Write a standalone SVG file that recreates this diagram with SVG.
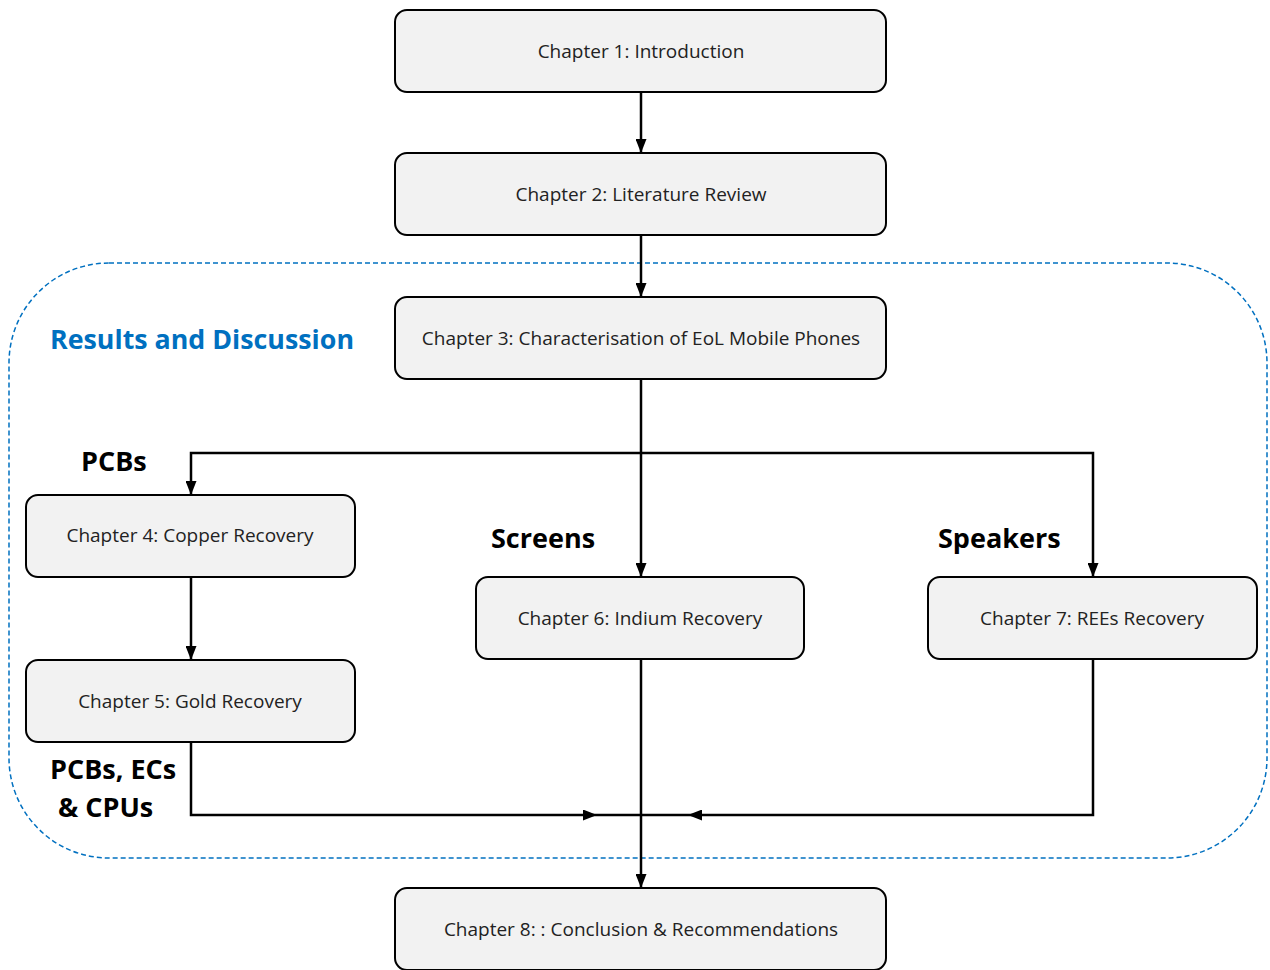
<svg xmlns="http://www.w3.org/2000/svg" width="1270" height="970" viewBox="0 0 1270 970">
  <defs>
    <marker id="arrow" viewBox="0 0 14 11" refX="14" refY="5.5" markerWidth="14" markerHeight="11" orient="auto" markerUnits="userSpaceOnUse">
      <path d="M0,0 L14,5.5 L0,11 Z" fill="#000"/>
    </marker>
    <style>
      .box { fill: #F2F2F2; stroke: #000; stroke-width: 2; }
      .lbl { font-family: "Open Sans", "Liberation Sans", sans-serif; font-size: 19px; fill: #222; text-anchor: middle; }
      .tag { font-family: "Open Sans", "Liberation Sans", sans-serif; font-size: 27px; font-weight: bold; fill: #000; }
      .wire { fill: none; stroke: #000; stroke-width: 2.5; }
      .arr { marker-end: url(#arrow); }
    </style>
  </defs>
  <rect width="1270" height="970" fill="#fff"/>

  <!-- results and discussion frame -->
  <g id="results-frame">
    <rect x="9" y="263" width="1258" height="595" rx="100" ry="100" fill="none" stroke="#0070C0" stroke-width="1.5" stroke-dasharray="5 3"/>
    <text x="50" y="349" font-family="'Open Sans', 'Liberation Sans', sans-serif" font-size="26.8" font-weight="bold" fill="#0070C0">Results and Discussion</text>
  </g>

  <!-- connectors -->
  <g id="connectors">
    <path class="wire arr" d="M641,92 V153"/>
    <path class="wire arr" d="M641,235 V297"/>
    <path class="wire" d="M641,379 V453"/>
    <path class="wire arr" d="M641,453 H191 V495"/>
    <path class="wire arr" d="M641,453 V577"/>
    <path class="wire arr" d="M641,453 H1093 V577"/>
    <path class="wire arr" d="M191,577 V660"/>
    <path class="wire arr" d="M191,742 V815 H597"/>
    <path class="wire arr" d="M1093,659 V815 H688"/>
    <path class="wire" d="M597,815 H688"/>
    <path class="wire arr" d="M641,659 V888"/>
  </g>

  <!-- section tags -->
  <g id="tags">
    <text class="tag" x="81" y="471">PCBs</text>
    <text class="tag" x="491" y="548">Screens</text>
    <text class="tag" x="938" y="548">Speakers</text>
    <text class="tag" x="50" y="779">PCBs, ECs</text>
    <text class="tag" x="58" y="817">&amp; CPUs</text>
  </g>

  <g id="ch1">
    <rect class="box" x="395" y="10" width="491" height="82" rx="12"/>
    <text class="lbl" x="641" y="58">Chapter 1: Introduction</text>
  </g>
  <g id="ch2">
    <rect class="box" x="395" y="153" width="491" height="82" rx="12"/>
    <text class="lbl" x="641" y="201">Chapter 2: Literature Review</text>
  </g>
  <g id="ch3">
    <rect class="box" x="395" y="297" width="491" height="82" rx="12"/>
    <text class="lbl" x="641" y="345">Chapter 3: Characterisation of EoL Mobile Phones</text>
  </g>
  <g id="ch4">
    <rect class="box" x="26" y="495" width="329" height="82" rx="12"/>
    <text class="lbl" x="190" y="542">Chapter 4: Copper Recovery</text>
  </g>
  <g id="ch5">
    <rect class="box" x="26" y="660" width="329" height="82" rx="12"/>
    <text class="lbl" x="190" y="708">Chapter 5: Gold Recovery</text>
  </g>
  <g id="ch6">
    <rect class="box" x="476" y="577" width="328" height="82" rx="12"/>
    <text class="lbl" x="640" y="625">Chapter 6: Indium Recovery</text>
  </g>
  <g id="ch7">
    <rect class="box" x="928" y="577" width="329" height="82" rx="12"/>
    <text class="lbl" x="1092" y="625">Chapter 7: REEs Recovery</text>
  </g>
  <g id="ch8">
    <rect class="box" x="395" y="888" width="491" height="82" rx="12"/>
    <text class="lbl" x="641" y="936">Chapter 8: : Conclusion &amp; Recommendations</text>
  </g>
</svg>
